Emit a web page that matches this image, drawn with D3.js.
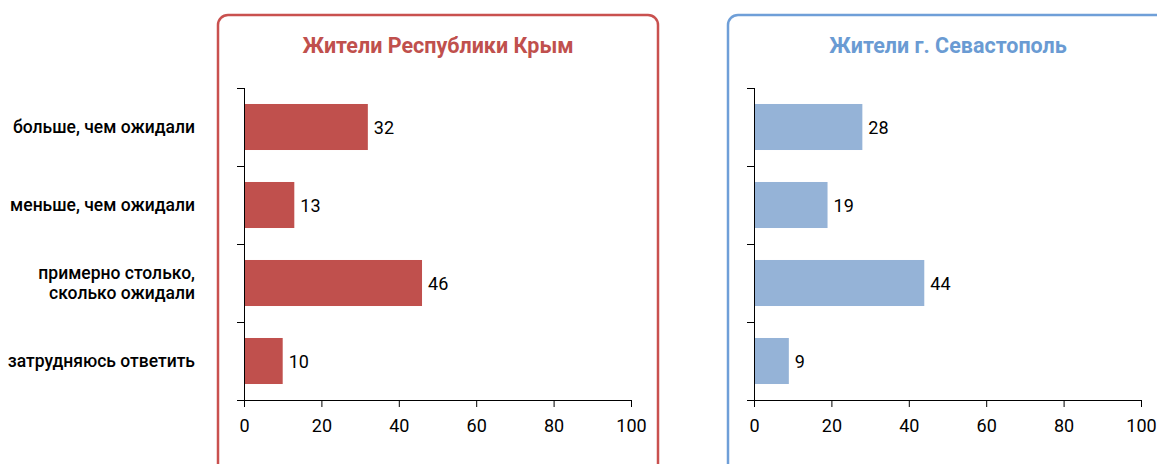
<!DOCTYPE html>
<html>
<head>
<meta charset="utf-8">
<script src="https://cdn.jsdelivr.net/npm/d3@7"></script>
<style>
  body { margin: 0; background: #fff; }
  text { font-family: Roboto, "Noto Sans", sans-serif; }
</style>
</head>
<body>
<div id="chart"></div>
<script>
// categories and values
var categories = ["больше, чем ожидали", "меньше, чем ожидали", "примерно столько,\nсколько ожидали", "затрудняюсь ответить"];
var crimeaValues = [32, 13, 46, 10];
var sevastopolValues = [28, 19, 44, 9];
var xTicks = [0, 20, 40, 60, 80, 100];
var panelTitles = ["Жители Республики Крым", "Жители г. Севастополь"];

var w = 1157, h = 464;

var panels = [
    { title: panelTitles[0], values: crimeaValues, left: 218, x0: 244, bar: "#c0504d", border: "#c9514f", titleColor: "#c0504d" },
    { title: panelTitles[1], values: sevastopolValues, left: 728, x0: 754, bar: "#95b3d7", border: "#6f9fd8", titleColor: "#6a9bd3" }
];

var boxW = 440;
var plotW = 387;
var plotTop = 88, plotBottom = 400;

var svg = d3.select("#chart")
    .append("svg")
    .attr("width", w)
    .attr("height", h);

var y = d3.scaleBand()
    .domain(categories)
    .range([plotTop, plotBottom])
    .paddingInner(0.41)
    .paddingOuter(0.205);

panels.forEach(function (p) {
    var g = svg.append("g");

    // panel frame (runs off the bottom)
    g.append("rect")
        .attr("x", p.left)
        .attr("y", 15)
        .attr("width", boxW)
        .attr("height", 500)
        .attr("rx", 10)
        .style("fill", "none")
        .style("stroke", p.border)
        .style("stroke-width", 2.5);

    g.append("text")
        .attr("x", p.left + boxW / 2)
        .attr("y", 53)
        .attr("text-anchor", "middle")
        .attr("font-size", "21.5px")
        .attr("font-weight", "bold")
        .attr("fill", p.titleColor)
        .text(p.title);

    var x = d3.scaleLinear()
        .domain([0, 100])
        .range([p.x0, p.x0 + plotW]);

    g.selectAll("rect.bar")
        .data(p.values)
        .enter()
        .append("rect")
        .attr("class", "bar")
        .attr("x", x(0))
        .attr("y", (d, i) => y(categories[i]))
        .attr("width", (d) => x(d) - x(0))
        .attr("height", y.bandwidth())
        .style("fill", p.bar);

    g.selectAll("text.val")
        .data(p.values)
        .enter()
        .append("text")
        .attr("class", "val")
        .attr("x", (d) => x(d) + 6)
        .attr("y", (d, i) => y(categories[i]) + y.bandwidth() / 2)
        .attr("dy", "0.38em")
        .attr("font-size", "18px")
        .attr("fill", "#000")
        .text((d) => d);

    // x axis
    var xAxis = g.append("g")
        .attr("transform", `translate(0, ${plotBottom})`)
        .call(d3.axisBottom(x).tickValues(xTicks).tickSize(7).tickSizeOuter(0));
    xAxis.select(".domain").attr("d", `M${p.x0 - 7},0.5H${p.x0 + plotW}`);
    xAxis.selectAll("text").attr("font-size", "18px").attr("fill", "#000").attr("dy", "1.2em");
    xAxis.selectAll("path, line").attr("stroke", "#000");

    // y axis with ticks at band boundaries
    var yTicks = d3.range(categories.length + 1).map((i) => plotTop + i * (plotBottom - plotTop) / categories.length);
    g.append("line")
        .attr("x1", p.x0 + 0.5).attr("x2", p.x0 + 0.5)
        .attr("y1", plotTop).attr("y2", plotBottom)
        .attr("stroke", "#000");
    g.selectAll("line.ytick")
        .data(yTicks)
        .enter()
        .append("line")
        .attr("class", "ytick")
        .attr("x1", p.x0 - 7).attr("x2", p.x0)
        .attr("y1", (d) => Math.round(d) + 0.5).attr("y2", (d) => Math.round(d) + 0.5)
        .attr("stroke", "#000");
});

// category labels
var lab = svg.selectAll("text.cat")
    .data(categories)
    .enter()
    .append("text")
    .attr("class", "cat")
    .attr("x", 195)
    .attr("y", (d) => y(d) + y.bandwidth() / 2)
    .attr("text-anchor", "end")
    .attr("font-size", "17.5px")
    .attr("font-weight", 500)
    .attr("fill", "#000");

lab.each(function (d) {
    var lines = d.split("\n");
    var t = d3.select(this);
    lines.forEach(function (s, i) {
        t.append("tspan")
            .attr("x", 195)
            .attr("dy", i == 0 ? (0.36 - (lines.length - 1) * 0.57) + "em" : "1.15em")
            .text(s);
    });
});
</script>
</body>
</html>
